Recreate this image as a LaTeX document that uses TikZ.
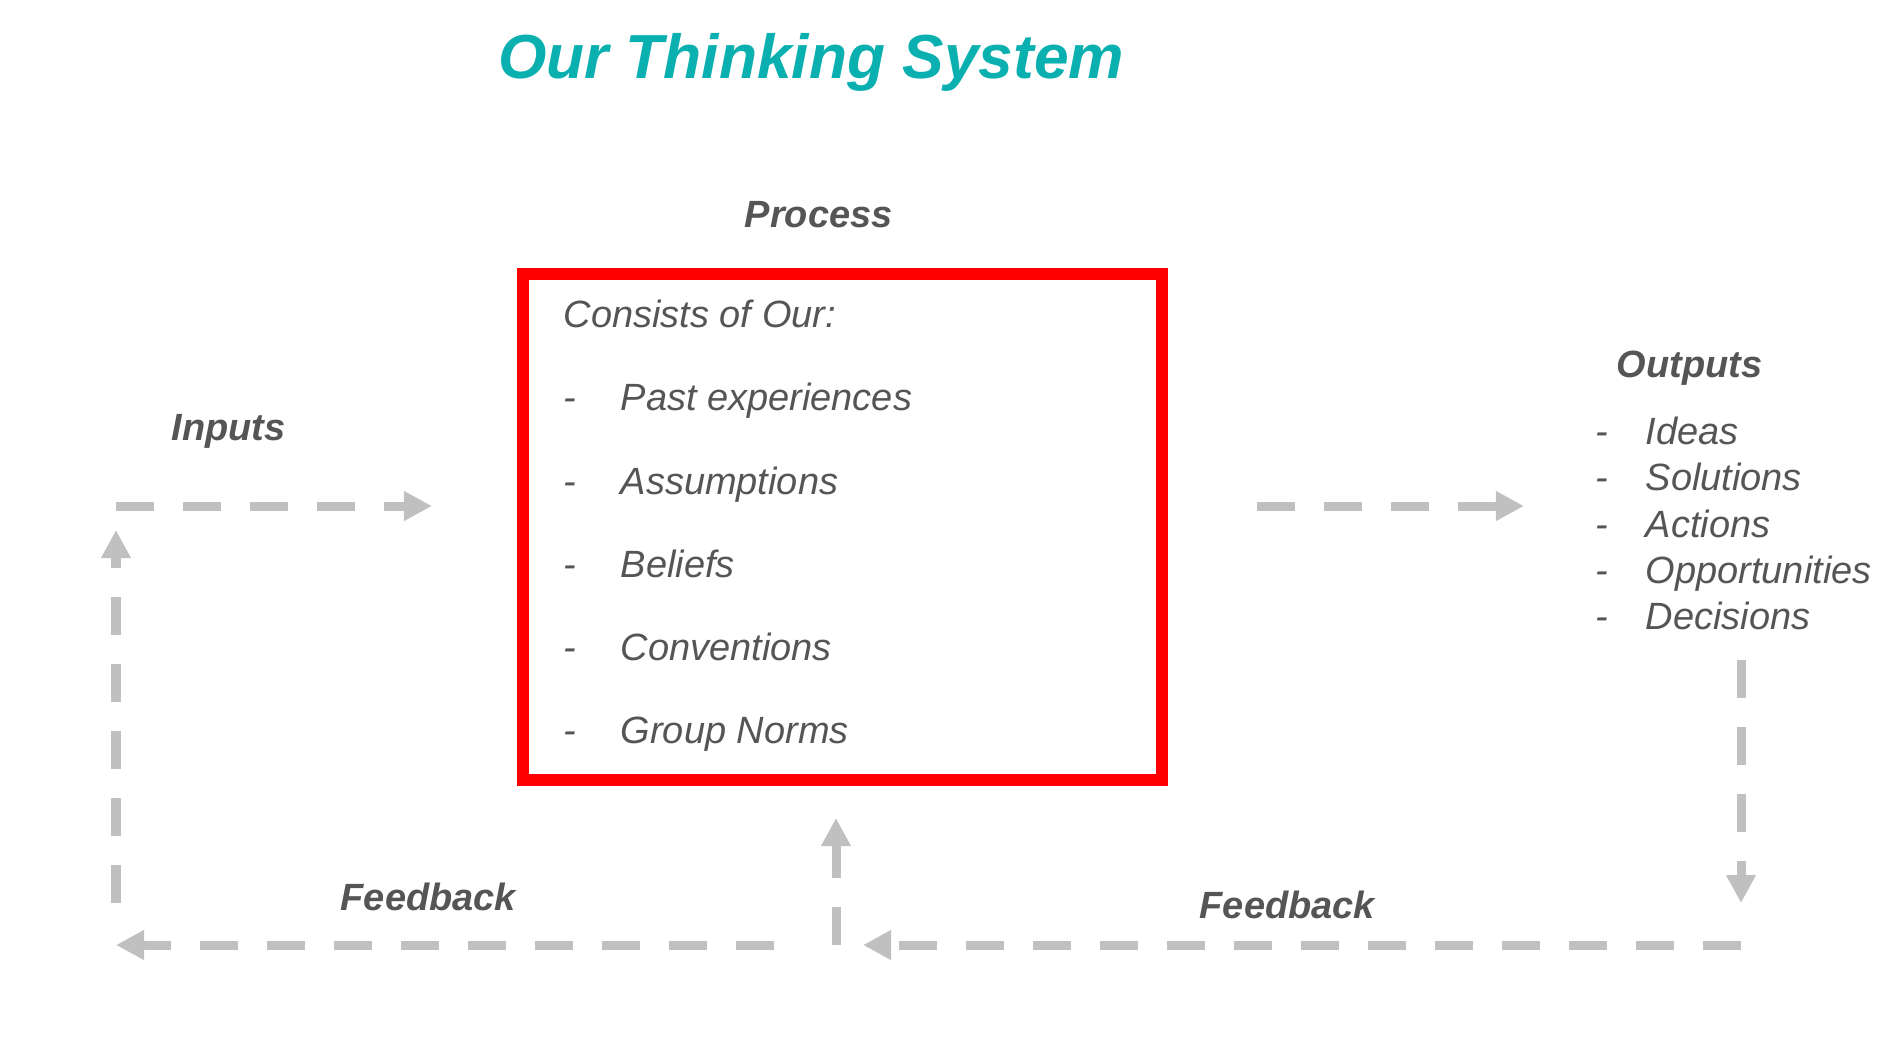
\documentclass[tikz,border=0pt]{standalone}
\usepackage{fontspec}
\setmainfont{Liberation Sans}
\usepackage{xcolor}
\usetikzlibrary{arrows.meta,positioning}
\definecolor{Think_Teal}{HTML}{0AAFAF}
\definecolor{Think_Grey}{HTML}{555555}
\definecolor{Flow_Grey}{HTML}{C0C0C0}
\definecolor{Box_Red}{HTML}{FF0000}

\begin{document}
\begin{tikzpicture}[x=0.01cm, y=-0.01cm,
    heading/.style={font=\fontsize{10.8}{13}\selectfont\bfseries\itshape, text=Think_Grey, anchor=base west, inner sep=0pt},
    entry/.style={font=\fontsize{10.8}{13}\selectfont\itshape, text=Think_Grey, anchor=base west, inner sep=0pt},
    flow/.style={Flow_Grey, line width=2.56pt, dash pattern=on 0.38cm off 0.29cm, -{Triangle[length=0.28cm, width=0.28cm]}}]
    \useasboundingbox (0,0) rectangle (1896,1038);

    % Title
    \node (title) [font=\fontsize{17.7}{20}\selectfont\bfseries\itshape, text=Think_Teal, anchor=base, inner sep=0pt] at (811,78) {Our Thinking System};

    % Process box
    \node (process) [heading] at (744,227) {Process};
    \node (box) [draw=Box_Red, line width=3.41pt, minimum width=6.39cm, minimum height=5.06cm, inner sep=0pt] at (842.5,527) {};
    \node (consists) [entry] at (563,327) {Consists of Our:};
    \node (past) [entry] at (563,410) {\makebox[0.57cm][l]{-}Past experiences};
    \node (assume) [entry] at (563,494) {\makebox[0.57cm][l]{-}Assumptions};
    \node (beliefs) [entry] at (563,577) {\makebox[0.57cm][l]{-}Beliefs};
    \node (conv) [entry] at (563,660) {\makebox[0.57cm][l]{-}Conventions};
    \node (norms) [entry] at (563,743) {\makebox[0.57cm][l]{-}Group Norms};

    % Inputs and outputs
    \node (inputs) [heading] at (171,440) {Inputs};
    \node (outputs) [heading] at (1616,377) {Outputs};
    \node (ideas) [entry] at (1595,444) {\makebox[0.5cm][l]{-}Ideas};
    \node (solutions) [entry] at (1595,490) {\makebox[0.5cm][l]{-}Solutions};
    \node (actions) [entry] at (1595,537) {\makebox[0.5cm][l]{-}Actions};
    \node (opps) [entry] at (1595,583) {\makebox[0.5cm][l]{-}Opportunities};
    \node (decisions) [entry] at (1595,629) {\makebox[0.5cm][l]{-}Decisions};

    % Feedback labels
    \node (fb left) [heading] at (340,910) {Feedback};
    \node (fb right) [heading] at (1199,918) {Feedback};

    % Arrow ends
    \coordinate (in start) at (116,506);
    \coordinate (in end) at (432,506);
    \coordinate (out start) at (1257,506);
    \coordinate (out end) at (1524,506);
    \coordinate (down start) at (1741,660);
    \coordinate (down end) at (1741,903);
    \coordinate (back right) at (1741,945);
    \coordinate (back mid) at (863,945);
    \coordinate (up mid start) at (836,945);
    \coordinate (up mid end) at (836,818);
    \coordinate (back left start) at (774,945);
    \coordinate (back left end) at (116,945);
    \coordinate (up left start) at (116,903);
    \coordinate (up left end) at (116,530);

    % Flow arrows
    \draw[flow] (in start) -- (in end);
    \draw[flow] (out start) -- (out end);
    \draw[flow] (down start) -- (down end);
    \draw[flow] (back right) -- (back mid);
    \draw[flow] (up mid start) -- (up mid end);
    \draw[flow] (back left start) -- (back left end);
    \draw[flow] (up left start) -- (up left end);

\end{tikzpicture}
\end{document}
